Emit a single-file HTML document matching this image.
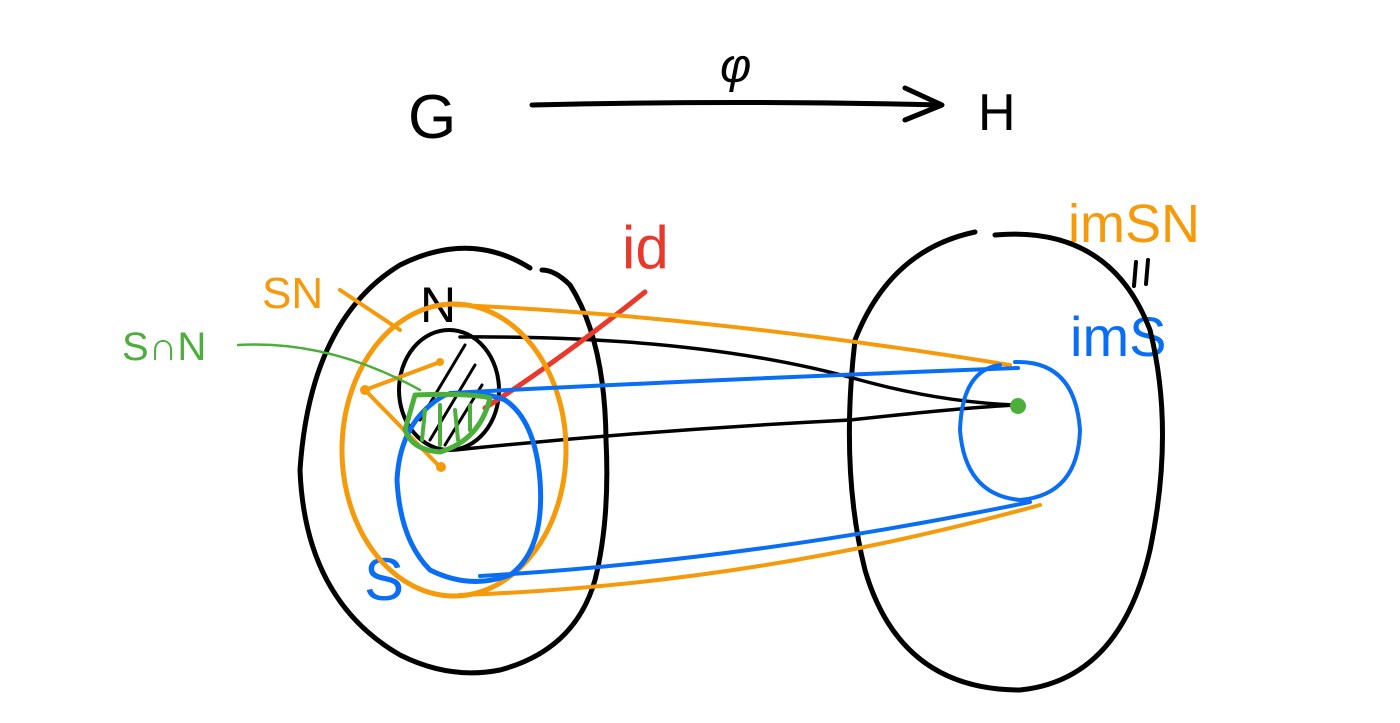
<!DOCTYPE html>
<html><head><style>html,body{margin:0;background:#fff}svg{display:block}</style></head><body>
<svg width="1400" height="723" viewBox="0 0 1400 723" xmlns="http://www.w3.org/2000/svg" fill="none" stroke-linecap="round" stroke-linejoin="round">
<g font-family="Liberation Sans, sans-serif">
<text x="408" y="138" font-size="62" fill="#000">G</text>
<text x="978" y="130" font-size="52" fill="#000">H</text>
<text x="720" y="82" font-size="48" fill="#000" font-style="italic">φ</text>
<text x="622" y="268" font-size="60" fill="#e8392b">id</text>
<text x="1068" y="242" font-size="54" fill="#f59a0a">imSN</text>
<text x="1070" y="356" font-size="56" fill="#0a6ef5">imS</text>
<text x="262" y="308" font-size="44" fill="#f59a0a">SN</text>
<text x="122" y="360" font-size="40" fill="#4caf3c">S∩N</text>
<text x="364" y="600" font-size="60" fill="#0a6ef5">S</text>
<text x="420" y="322" font-size="50" fill="#000">N</text>
</g>
<path d="M1136 262 L1134 286 M1148 260 L1146 284" stroke="#000" stroke-width="4"/>
<path d="M532 105 Q740 100 940 105 M905 88 L942 105 L905 120" stroke="#000" stroke-width="5"/>
<path d="M530 268 Q470 230 400 265 Q310 320 300 470 Q305 600 400 655 Q450 680 500 670 Q575 650 595 580 Q610 520 606 440 Q605 340 570 285 Q555 270 542 270" stroke="#000" stroke-width="5"/>
<path d="M995 235 Q1110 225 1150 330 Q1175 430 1150 550 Q1120 680 1020 690 Q900 690 865 570 Q840 470 855 340 Q890 250 975 232" stroke="#000" stroke-width="5"/>
<ellipse cx="449" cy="390" rx="50" ry="60" stroke="#000" stroke-width="4"/>
<path d="M420 420 L465 345 M430 440 L475 365 M445 445 L482 385" stroke="#000" stroke-width="3"/>
<path d="M460 337 Q700 335 860 380 Q940 402 1015 405 Q960 408 850 420 Q650 430 455 450" stroke="#000" stroke-width="3.5"/>
<path d="M645 292 Q560 360 485 408" stroke="#e8392b" stroke-width="5"/>
<ellipse cx="454" cy="450" rx="112" ry="146" stroke="#f59a0a" stroke-width="5"/>
<path d="M455 305 Q700 315 1010 365 M460 595 Q750 585 1040 505 M340 290 L400 330 M365 390 L440 362 M365 390 L440 467" stroke="#f59a0a" stroke-width="4"/>
<circle cx="365" cy="390" r="5" fill="#f59a0a"/><circle cx="441" cy="467" r="5" fill="#f59a0a"/><circle cx="440" cy="362" r="4" fill="#f59a0a"/>
<path d="M445 395 Q400 420 397 480 Q400 540 430 570 Q470 590 510 575 Q545 550 540 480 Q535 420 505 400 Q480 390 445 395" stroke="#0a6ef5" stroke-width="5"/>
<path d="M450 393 Q700 380 1018 368 M480 576 Q750 560 1030 502" stroke="#0a6ef5" stroke-width="4"/>
<path d="M1015 362 Q1075 360 1080 430 Q1078 495 1020 500 Q965 495 960 430 Q962 370 1000 365" stroke="#0a6ef5" stroke-width="4"/>
<path d="M238 345 Q330 340 420 390" stroke="#4caf3c" stroke-width="2.5"/>
<path d="M415 395 Q470 393 490 398 Q480 440 440 452 Q412 450 405 430 Z" stroke="#4caf3c" stroke-width="5"/>
<path d="M425 410 L422 440 M440 405 L440 445 M455 410 L458 440 M470 405 L470 430" stroke="#4caf3c" stroke-width="4"/>
<circle cx="1018" cy="406" r="8" fill="#4caf3c"/>
</svg>
</body></html>
